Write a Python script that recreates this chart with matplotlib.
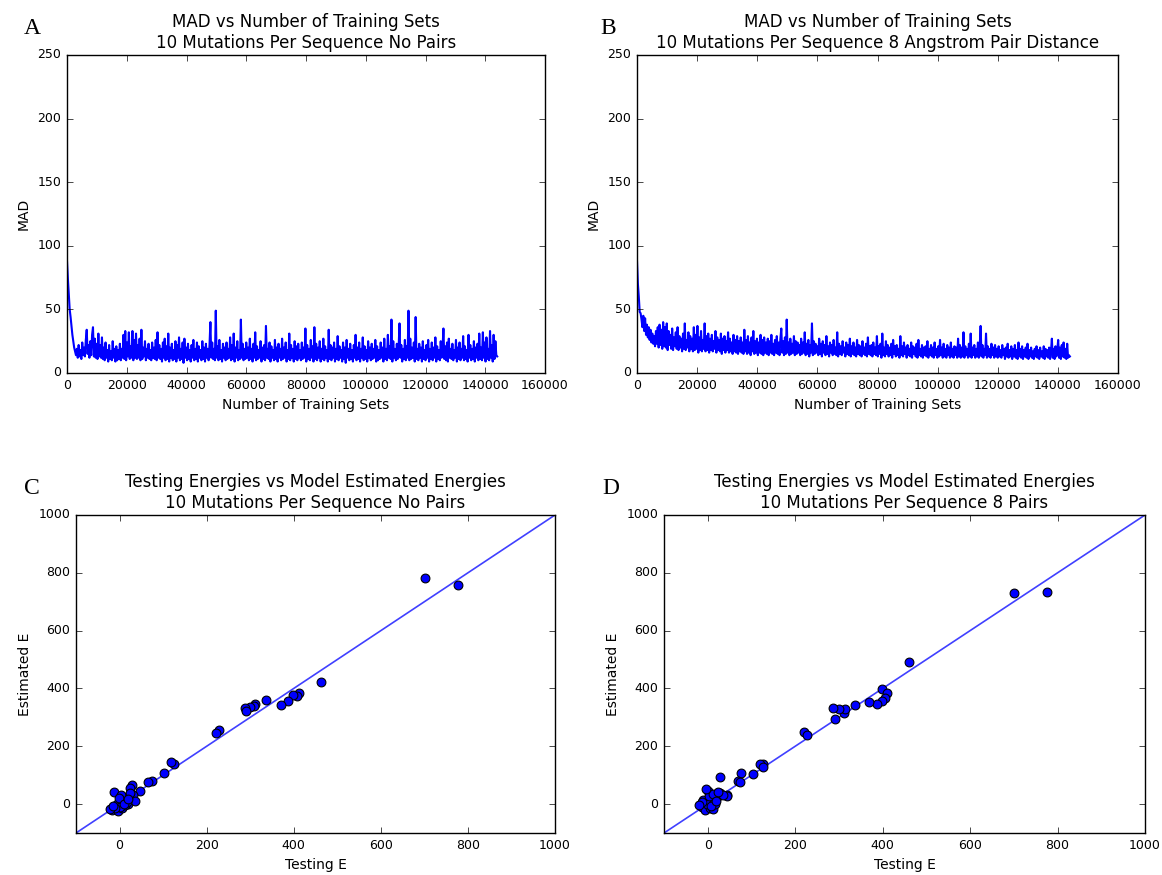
import numpy as np
import matplotlib
matplotlib.use('Agg')
import matplotlib.pyplot as plt

# MAD readings for panels A and B (one every ~300 training sets)
mad_no_pairs = [
    88, 74, 62, 50, 44, 37, 30, 25, 20, 17, 14, 19, 12, 22, 13, 18, 11, 24, 14, 20,
    13, 26, 34, 15, 22, 12, 25, 14, 30, 36, 13, 27, 12, 23, 11, 31, 13, 22, 12, 28,
    11, 20, 10, 24, 12, 18, 9, 22, 11, 17, 10, 25, 12, 19, 9, 21, 10, 18, 11, 23,
    10, 19, 12, 30, 11, 33, 10, 24, 13, 32, 11, 21, 12, 33, 10, 26, 12, 31, 11, 22,
    12, 27, 10, 34, 11, 20, 13, 25, 10, 19, 12, 23, 11, 18, 10, 24, 12, 20, 11, 26,
    10, 32, 12, 22, 11, 19, 9, 24, 12, 27, 10, 21, 11, 31, 9, 20, 12, 23, 10, 18,
    11, 25, 9, 22, 12, 28, 10, 19, 11, 24, 8, 27, 12, 20, 10, 23, 11, 18, 9, 22,
    12, 26, 10, 19, 11, 24, 9, 21, 12, 18, 10, 25, 11, 20, 9, 23, 12, 19, 10, 22,
    40, 12, 24, 11, 19, 10, 49, 12, 21, 10, 26, 11, 18, 9, 23, 12, 20, 10, 24, 11,
    19, 12, 28, 10, 22, 11, 31, 9, 20, 12, 25, 10, 18, 11, 42, 12, 23, 10, 19, 11,
    24, 12, 20, 10, 27, 11, 19, 9, 23, 12, 32, 10, 21, 11, 18, 12, 25, 9, 20, 11,
    22, 10, 37, 12, 19, 11, 24, 9, 21, 12, 18, 10, 26, 11, 20, 9, 23, 12, 19, 10,
    27, 11, 20, 12, 24, 9, 18, 11, 31, 10, 22, 12, 19, 9, 25, 11, 21, 10, 23, 12,
    18, 10, 24, 11, 20, 12, 35, 9, 22, 11, 19, 10, 26, 12, 21, 9, 36, 11, 23, 10,
    20, 12, 25, 9, 19, 11, 27, 10, 21, 12, 18, 9, 34, 11, 22, 10, 20, 12, 24, 9,
    19, 11, 29, 10, 21, 12, 18, 9, 24, 11, 20, 8, 26, 12, 19, 10, 23, 11, 18, 9,
    22, 12, 30, 10, 20, 11, 24, 9, 19, 12, 28, 10, 21, 11, 18, 9, 25, 12, 20, 10,
    23, 11, 19, 12, 26, 9, 21, 10, 18, 11, 24, 12, 20, 9, 27, 11, 19, 10, 30, 12,
    21, 11, 42, 9, 25, 12, 19, 10, 23, 11, 20, 39, 12, 22, 9, 19, 11, 26, 10, 21,
    12, 49, 10, 27, 11, 20, 12, 24, 9, 44, 11, 19, 10, 23, 12, 20, 9, 25, 11, 18,
    10, 22, 12, 26, 9, 19, 11, 24, 10, 20, 12, 28, 9, 21, 11, 18, 10, 25, 12, 19,
    35, 11, 21, 10, 24, 9, 27, 12, 19, 11, 23, 10, 18, 12, 26, 9, 20, 11, 24, 10,
    19, 12, 29, 10, 21, 11, 18, 9, 30, 12, 22, 10, 19, 11, 25, 9, 20, 12, 23, 10,
    31, 11, 20, 10, 32, 12, 24, 9, 28, 11, 19, 10, 33, 12, 22, 9, 30, 11, 25, 14,
    13,
]

mad_8_angstrom = [
    88, 70, 60, 48, 47, 42, 36, 45, 33, 43, 30, 38, 28, 36, 26, 34, 24, 31, 23, 29,
    21, 33, 23, 36, 20, 38, 22, 34, 19, 40, 21, 36, 20, 39, 18, 33, 22, 30, 19, 35,
    18, 28, 21, 32, 19, 36, 18, 29, 20, 27, 17, 31, 19, 39, 18, 26, 20, 32, 17, 29,
    19, 27, 17, 36, 18, 30, 19, 37, 16, 28, 18, 33, 17, 26, 19, 39, 17, 29, 18, 31,
    16, 27, 18, 30, 17, 25, 19, 33, 16, 28, 18, 26, 17, 31, 15, 27, 18, 29, 16, 25,
    18, 32, 16, 27, 17, 24, 15, 30, 17, 26, 16, 29, 15, 25, 17, 28, 16, 24, 15, 34,
    17, 26, 15, 29, 16, 24, 14, 28, 17, 33, 15, 25, 16, 27, 14, 24, 16, 30, 15, 26,
    14, 28, 16, 24, 15, 27, 14, 25, 16, 30, 15, 23, 14, 26, 16, 29, 15, 24, 14, 27,
    35, 16, 25, 14, 28, 15, 42, 16, 24, 14, 27, 15, 23, 16, 29, 14, 25, 15, 24, 16,
    22, 14, 27, 15, 24, 16, 32, 14, 23, 15, 26, 13, 22, 16, 39, 14, 25, 15, 23, 16,
    21, 14, 27, 15, 23, 13, 25, 16, 22, 14, 29, 15, 21, 13, 24, 16, 22, 14, 26, 15,
    20, 14, 32, 13, 23, 15, 21, 14, 25, 16, 20, 13, 24, 15, 22, 14, 27, 13, 21, 15,
    24, 14, 20, 13, 26, 15, 22, 14, 21, 13, 25, 15, 20, 14, 23, 13, 28, 15, 21, 14,
    22, 13, 24, 15, 20, 14, 29, 13, 21, 15, 23, 12, 31, 14, 20, 13, 25, 15, 22, 13,
    20, 14, 23, 12, 26, 15, 21, 13, 22, 14, 19, 12, 29, 14, 21, 13, 24, 15, 20, 12,
    22, 14, 19, 13, 24, 12, 21, 15, 20, 13, 23, 12, 26, 14, 19, 13, 22, 12, 20, 14,
    21, 13, 25, 12, 19, 14, 22, 13, 20, 12, 24, 14, 19, 12, 21, 13, 26, 14, 20, 12,
    23, 13, 19, 12, 22, 14, 20, 12, 24, 13, 19, 12, 21, 14, 20, 12, 27, 13, 22, 12,
    20, 13, 32, 12, 21, 14, 19, 12, 23, 13, 31, 12, 20, 14, 22, 12, 19, 13, 24, 12,
    21, 37, 13, 22, 12, 19, 14, 31, 12, 21, 13, 19, 12, 23, 14, 20, 12, 22, 13, 19,
    12, 21, 13, 18, 12, 22, 14, 19, 11, 20, 13, 23, 12, 18, 13, 21, 11, 19, 13, 22,
    12, 18, 11, 24, 13, 19, 12, 21, 11, 18, 13, 20, 12, 23, 11, 18, 13, 20, 12, 17,
    11, 19, 13, 21, 12, 18, 11, 20, 13, 17, 12, 21, 11, 19, 13, 18, 12, 20, 11, 17,
    27, 12, 19, 11, 21, 13, 18, 26, 12, 20, 11, 22, 13, 24, 12, 19, 11, 23, 12, 14,
    13,
]
n_training_sets = 144000

# panel C: testing E vs estimated E, no pairs
test_e_no_pairs = [702, 778, 462, 413, 408, 398, 386, 370, 337, 312, 308, 300, 288, 291,
                   228, 222, 126, 119, 103, 75, 66, 46, 28, 25, -12,
                   -6, -18, -3, 5, 9, 16, 20, 13, 1, 32, 24, -10, -22, 36, 16, 4, -2, 10, 20, -14]
est_e_no_pairs = [782, 757, 422, 385, 375, 378, 357, 343, 359, 345, 340, 336, 334, 323,
                  257, 247, 138, 144, 109, 80, 75, 46, 66, 55, 42,
                  2, -21, -25, -14, 14, 25, 2, -3, -9, 31, 37, -15, -18, 12, 8, 30, 20, 0, 18, -8]

# panel D: testing E vs estimated E, 8 pairs
test_e_8_pairs = [700, 777, 461, 399, 410, 405, 398, 387, 369, 337, 312, 315, 301, 287, 291,
                  221, 228, 127, 120, 126, 103, 76, 69, 74, 27, 44, 0,
                  -10, -14, -6, 5, 13, 17, 9, 21, 28, 43, 36, -2, 4, 13, 24, -14, -19, -4, 8, 20]
est_e_8_pairs = [731, 735, 490, 398, 384, 368, 355, 347, 353, 343, 314, 328, 329, 333, 294,
                 251, 239, 140, 137, 128, 104, 106, 81, 78, 94, 30, 47,
                 14, -9, -21, -15, -18, 2, 14, 25, 37, 27, 31, 2, 28, 36, 42, 8, -3, 52, -8, 12]

plt.style.use('classic')
plt.rcParams['font.family'] = 'DejaVu Sans'

fig = plt.figure(figsize=(11.62, 8.75), dpi=100, facecolor='white')
W, H = 1162.0, 875.0


def axes_px(left, top, right, bottom):
    return fig.add_axes([left / W, 1 - bottom / H, (right - left) / W, (bottom - top) / H])


def mad_panel(ax, mad, title):
    x = np.linspace(0, n_training_sets, len(mad))
    ax.plot(x, mad, color='b', linewidth=1.5)
    ax.set_xlim(0, 160000)
    ax.set_ylim(0, 250)
    ax.set_xticks(np.arange(0, 160001, 20000))
    ax.set_yticks(np.arange(0, 251, 50))
    ax.set_title(title, fontsize=12, pad=5)
    ax.set_xlabel('Number of Training Sets', fontsize=10)
    ax.set_ylabel('MAD', fontsize=10)
    ax.tick_params(labelsize=9)


def energy_panel(ax, test_e, est_e, title):
    ax.plot([-100, 1000], [-100, 1000], color='b', linewidth=1.2, alpha=0.75)
    ax.scatter(test_e, est_e, s=40, c='b', edgecolors='k', linewidths=0.8, zorder=3)
    ax.set_xlim(-100, 1000)
    ax.set_ylim(-100, 1000)
    ax.set_xticks(np.arange(0, 1001, 200))
    ax.set_yticks(np.arange(0, 1001, 200))
    ax.set_title(title, fontsize=12, pad=5)
    ax.set_xlabel('Testing E', fontsize=10)
    ax.set_ylabel('Estimated E', fontsize=10)
    ax.tick_params(labelsize=9)


ax_a = axes_px(67, 55, 545, 373)
mad_panel(ax_a, mad_no_pairs, 'MAD vs Number of Training Sets\n10 Mutations Per Sequence No Pairs')
ax_b = axes_px(637, 55, 1118, 373)
mad_panel(ax_b, mad_8_angstrom, 'MAD vs Number of Training Sets\n10 Mutations Per Sequence 8 Angstrom Pair Distance')
ax_c = axes_px(76, 515, 555, 833)
energy_panel(ax_c, test_e_no_pairs, est_e_no_pairs,
             'Testing Energies vs Model Estimated Energies\n10 Mutations Per Sequence No Pairs')
ax_d = axes_px(664, 515, 1145, 833)
energy_panel(ax_d, test_e_8_pairs, est_e_8_pairs,
             'Testing Energies vs Model Estimated Energies\n10 Mutations Per Sequence 8 Pairs')

for letter, px, py in [('A', 24, 28), ('B', 600, 28), ('C', 24, 488), ('D', 602, 488)]:
    fig.text(px / W, 1 - py / H, letter, fontsize=17, family='Liberation Serif', va='center', ha='left')

fig.savefig('out.png', dpi=100, facecolor='white')
